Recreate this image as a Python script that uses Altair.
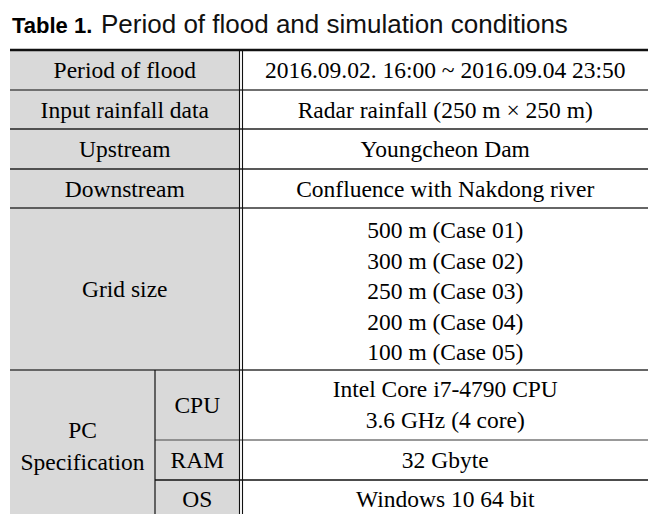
import altair as alt
import pandas as pd

# ---- table content ----
row_labels = ["Period of flood", "Input rainfall data", "Upstream", "Downstream", "Grid size"]
row_values = ["2016.09.02. 16:00 ~ 2016.09.04 23:50",
              "Radar rainfall (250 m × 250 m)",
              "Youngcheon Dam",
              "Confluence with Nakdong river"]
grid_sizes = ["500 m (Case 01)", "300 m (Case 02)", "250 m (Case 03)",
              "200 m (Case 04)", "100 m (Case 05)"]
pc_label = ["PC", "Specification"]
pc_items = ["CPU", "RAM", "OS"]
cpu_values = ["Intel Core i7-4790 CPU", "3.6 GHz (4 core)"]
ram_value = ["32 Gbyte"]
os_value = ["Windows 10 64 bit"]
title_bold = "Table 1."
title_rest = "Period of flood and simulation conditions"

# ---- layout (page pixel coordinates) ----
X_L, X_SUB, X_D1, X_D2, X_R = 10, 155, 239.5, 242.5, 648
Y = [50, 90, 129, 169, 208, 370, 440, 480, 517]
CX_LABEL = (X_L + X_D1) / 2
CX_PC = (X_L + X_SUB) / 2
CX_SUB = (X_SUB + X_D1) / 2
CX_VAL = (X_D2 + X_R) / 2

texts = []
for i, lab in enumerate(row_labels[:4]):
    cy = (Y[i] + Y[i + 1]) / 2 + 1
    texts.append((CX_LABEL, cy, lab))
    texts.append((CX_VAL, cy, row_values[i]))
texts.append((CX_LABEL, (Y[4] + Y[5]) / 2 + 1, row_labels[4]))
for k, g in enumerate(grid_sizes):
    texts.append((CX_VAL, 231 + 30.5 * k, g))
texts.append((CX_PC, 431, pc_label[0]))
texts.append((CX_PC, 463, pc_label[1]))
sub_cy = [(Y[5] + Y[6]) / 2 + 1, (Y[6] + Y[7]) / 2 + 1, (Y[7] + Y[8]) / 2 + 1]
for s, cy in zip(pc_items, sub_cy):
    texts.append((CX_SUB, cy, s))
texts.append((CX_VAL, 390, cpu_values[0]))
texts.append((CX_VAL, 421, cpu_values[1]))
texts.append((CX_VAL, sub_cy[1], ram_value[0]))
texts.append((CX_VAL, sub_cy[2], os_value[0]))
df_text = pd.DataFrame(texts, columns=["x", "y", "t"])

rules = [
    # x, x2, y, y2, color, width
    (X_L, X_R, Y[0], Y[0], "#111111", 2.5),
    (X_L, X_R, Y[1], Y[1], "#707070", 2),
    (X_L, X_R, Y[2], Y[2], "#222222", 1.3),
    (X_L, X_R, Y[3], Y[3], "#222222", 1.3),
    (X_L, X_R, Y[4], Y[4], "#333333", 1.5),
    (X_L, X_R, Y[5], Y[5], "#666666", 2),
    (X_SUB, X_R, Y[6], Y[6], "#777777", 1.5),
    (X_SUB, X_R, Y[7], Y[7], "#111111", 1.3),
    (X_L, X_R, Y[8], Y[8], "#111111", 2.5),
    (X_SUB, X_SUB, Y[5], Y[8], "#111111", 1.2),
    (X_D1, X_D1, Y[0], Y[8], "#111111", 1.1),
    (X_D2, X_D2, Y[0], Y[8], "#111111", 1.1),
]
df_rules = pd.DataFrame(rules, columns=["x", "x2", "y", "y2", "c", "w"])
df_fill = pd.DataFrame([{"x": X_L, "x2": X_D1, "y": Y[0], "y2": Y[8]}])
df_title = pd.DataFrame([{"x": 12, "y": 33, "t": title_bold}])
df_title2 = pd.DataFrame([{"x": 101, "y": 33, "t": title_rest}])

TOP = 12
W, H = 653, 506 - TOP
xs = alt.Scale(domain=[8, 8 + W], range=[0, W])
ys = alt.Scale(domain=[8 + TOP, 8 + TOP + H], range=[0, H])

fill = alt.Chart(df_fill).mark_rect(color="#d9d9d9").encode(
    x=alt.X("x:Q", scale=xs, axis=None), x2="x2:Q",
    y=alt.Y("y:Q", scale=ys, axis=None), y2="y2:Q")

lines = alt.Chart(df_rules).mark_rule().encode(
    x=alt.X("x:Q", scale=xs, axis=None), x2="x2:Q",
    y=alt.Y("y:Q", scale=ys, axis=None), y2="y2:Q",
    color=alt.Color("c:N", scale=None),
    strokeWidth=alt.StrokeWidth("w:Q", scale=None))

cells = alt.Chart(df_text).mark_text(
    font="Liberation Serif", fontSize=23.5, baseline="middle", align="center", color="#000000"
).encode(x=alt.X("x:Q", scale=xs, axis=None), y=alt.Y("y:Q", scale=ys, axis=None), text="t:N")

t1 = alt.Chart(df_title).mark_text(
    font="Liberation Sans", fontSize=22, fontWeight="bold", baseline="alphabetic", align="left", color="#000000"
).encode(x=alt.X("x:Q", scale=xs, axis=None), y=alt.Y("y:Q", scale=ys, axis=None), text="t:N")

t2 = alt.Chart(df_title2).mark_text(
    font="Liberation Sans", fontSize=26, baseline="alphabetic", align="left", color="#111111"
).encode(x=alt.X("x:Q", scale=xs, axis=None), y=alt.Y("y:Q", scale=ys, axis=None), text="t:N")

chart = alt.layer(fill, lines, cells, t1, t2).properties(
    width=W, height=H, autosize=alt.AutoSizeParams(type="none"),
    padding={"top": TOP, "left": 0, "right": 0, "bottom": 0}
).configure_view(stroke=None)

chart.save("out.html", embed_options={"renderer": "svg", "actions": False})
